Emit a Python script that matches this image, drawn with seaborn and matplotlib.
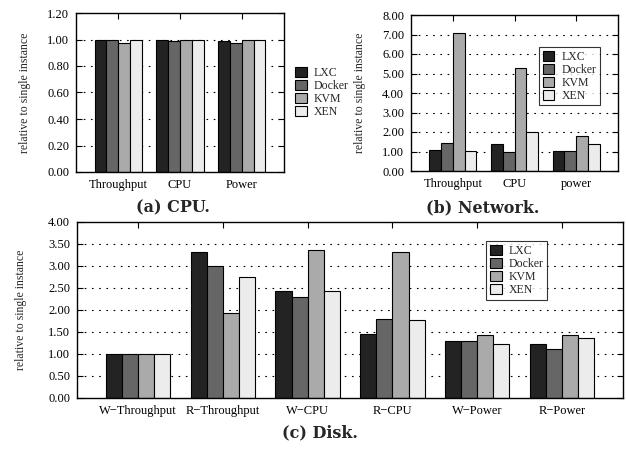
import matplotlib
matplotlib.use("Agg")
import matplotlib.pyplot as plt
import seaborn as sns
import pandas as pd

platforms = ["LXC", "Docker", "KVM", "XEN"]
colors = ["#232323", "#666666", "#aaaaaa", "#ececec"]

cpu_metrics = ["Throughput", "CPU", "Power"]
cpu_lxc = [1.00, 1.00, 0.99]
cpu_docker = [1.00, 0.985, 0.97]
cpu_kvm = [0.97, 1.00, 1.00]
cpu_xen = [1.00, 1.00, 1.00]

net_metrics = ["Throughput", "CPU", "power"]
net_lxc = [1.10, 1.40, 1.05]
net_docker = [1.45, 0.95, 1.05]
net_kvm = [7.07, 5.27, 1.78]
net_xen = [1.02, 2.02, 1.37]

disk_metrics = ["W\u2212Throughput", "R\u2212Throughput", "W\u2212CPU", "R\u2212CPU", "W\u2212Power", "R\u2212Power"]
disk_lxc = [1.00, 3.31, 2.43, 1.45, 1.30, 1.23]
disk_docker = [1.00, 3.01, 2.29, 1.80, 1.29, 1.12]
disk_kvm = [1.00, 1.94, 3.37, 3.31, 1.44, 1.43]
disk_xen = [1.00, 2.76, 2.43, 1.77, 1.22, 1.37]

sns.set_theme(style="white")
plt.rcParams["font.family"] = ["Liberation Serif", "DejaVu Serif"]


def frame(metrics, series):
    rows = []
    for name, vals in zip(platforms, series):
        for m, v in zip(metrics, vals):
            rows.append({"metric": m, "platform": name, "value": v})
    return pd.DataFrame(rows)


W, H = 626, 451
fig = plt.figure(figsize=(W / 100, H / 100), dpi=100)


def px_axes(x0, y0, x1, y1):
    return fig.add_axes([x0 / W, (H - y1) / H, (x1 - x0) / W, (y1 - y0) / H])


def draw(ax, metrics, series, ymax, step, pad):
    df = frame(metrics, series)
    sns.barplot(data=df, x="metric", y="value", hue="platform",
                hue_order=platforms, order=metrics, palette=colors,
                width=0.76, edgecolor="black", linewidth=0.8,
                saturation=1, ax=ax, zorder=3)
    n = len(metrics)
    ax.set_xlim(-pad, n - 1 + pad)
    ax.set_ylim(0, ymax)
    ticks = [i * step for i in range(int(round(ymax / step)) + 1)]
    ax.set_yticks(ticks)
    ax.set_yticklabels([f"{t:.2f}" for t in ticks])
    for t in ticks[1:-1]:
        ax.axhline(t, color="black", linestyle=(0, (1.5, 5)), linewidth=0.8, zorder=1)
    ax.set_xlabel("")
    ax.set_ylabel("relative to single instance", fontsize=8.5)
    ax.tick_params(axis="both", labelsize=9, direction="in", colors="black")
    ax.tick_params(axis="x", top=True, bottom=False, length=4, width=0.8, pad=5)
    ax.tick_params(axis="y", left=True, right=True, length=4, width=0.8, pad=5)
    for s in ax.spines.values():
        s.set_color("black")
        s.set_linewidth(1.0)
        s.set_zorder(5)


def style_legend(leg, boxed):
    for h in leg.legend_handles:
        h.set_edgecolor("black")
        h.set_linewidth(0.8)
    if boxed:
        leg.get_frame().set_edgecolor("black")
        leg.get_frame().set_linewidth(0.8)


leg_kw = dict(fontsize=8.5, handlelength=1.0, handleheight=1.0,
              handletextpad=0.6, labelspacing=0.06, borderaxespad=0)

# (a) CPU
ax_a = px_axes(76, 13, 284, 172)
draw(ax_a, cpu_metrics, [cpu_lxc, cpu_docker, cpu_kvm, cpu_xen], 1.2, 0.2, 0.68)
ax_a.yaxis.set_label_coords(-0.215, 0.5)
leg = ax_a.legend(loc="center left", bbox_to_anchor=(1.03, 0.5), frameon=False, **leg_kw)
style_legend(leg, False)

# (b) Network
ax_b = px_axes(411, 15, 618, 171)
draw(ax_b, net_metrics, [net_lxc, net_docker, net_kvm, net_xen], 8.0, 1.0, 0.68)
ax_b.yaxis.set_label_coords(-0.218, 0.5)
leg = ax_b.legend(loc="upper right", bbox_to_anchor=(0.913, 0.795), frameon=True,
                  borderpad=0.3, fancybox=False, **leg_kw)
style_legend(leg, True)

# (c) Disk
ax_c = px_axes(77, 222, 623, 398)
draw(ax_c, disk_metrics, [disk_lxc, disk_docker, disk_kvm, disk_xen], 4.0, 0.5, 0.72)
ax_c.yaxis.set_label_coords(-0.091, 0.5)
leg = ax_c.legend(loc="upper right", bbox_to_anchor=(0.861, 0.892), frameon=True,
                  borderpad=0.3, fancybox=False, **leg_kw)
style_legend(leg, True)

cap = dict(fontsize=11.5, fontweight="bold", ha="center", va="center",
           family=["DejaVu Serif"])
fig.text(173 / W, 1 - 208 / H, "(a) CPU.", **cap)
fig.text(483 / W, 1 - 208 / H, "(b) Network.", **cap)
fig.text(320 / W, 1 - 433 / H, "(c) Disk.", **cap)

fig.savefig("out.png", dpi=100)
